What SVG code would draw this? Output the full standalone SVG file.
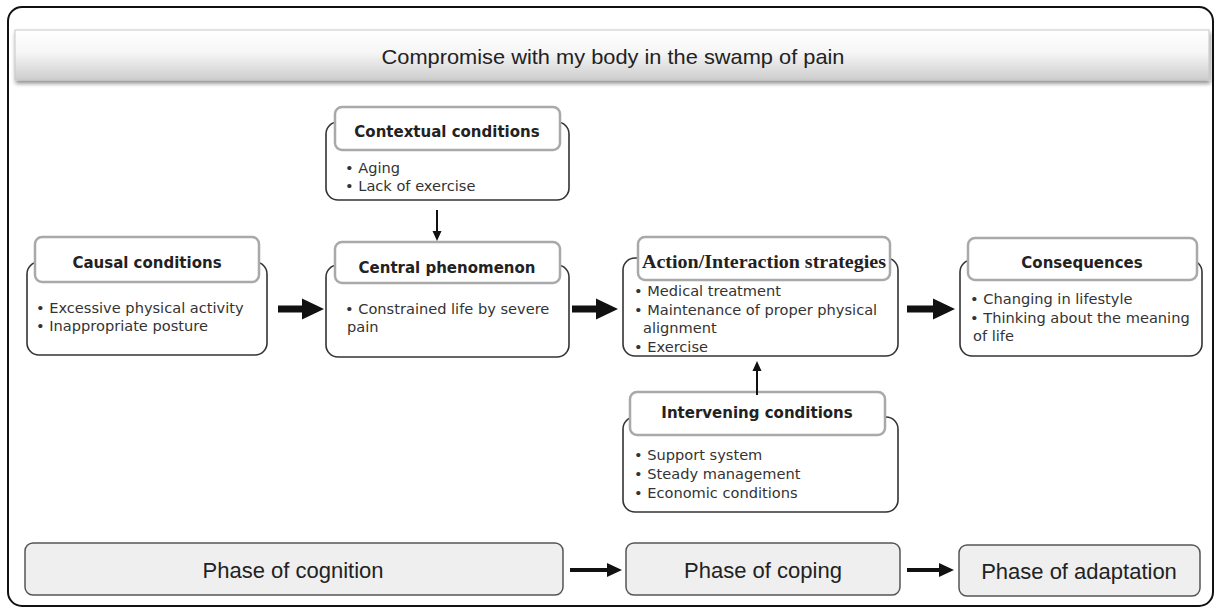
<svg xmlns="http://www.w3.org/2000/svg" width="1219" height="609" viewBox="0 0 1219 609">
<defs>
<linearGradient id="band" x1="0" y1="0" x2="0" y2="1">
<stop offset="0" stop-color="#ffffff"/>
<stop offset="0.45" stop-color="#f6f6f6"/>
<stop offset="1" stop-color="#cdcdcd"/>
</linearGradient>
<filter id="sh" x="-5%" y="-30%" width="110%" height="180%">
<feGaussianBlur in="SourceAlpha" stdDeviation="2"/>
<feOffset dx="1" dy="3" result="b"/>
<feComponentTransfer><feFuncA type="linear" slope="0.45"/></feComponentTransfer>
<feMerge><feMergeNode/><feMergeNode in="SourceGraphic"/></feMerge>
</filter>
</defs>
<style>
.outer{fill:#fff;stroke:#333;stroke-width:1.6}
.head{fill:#fff;stroke:#a9a9a9;stroke-width:2.5}
.ttl{font-family:"DejaVu Sans",sans-serif;font-weight:bold;font-size:15px;fill:#222;text-anchor:middle}
.ttls{font-family:"Liberation Serif",serif;font-weight:bold;font-size:19px;fill:#222;text-anchor:middle}
.bl{font-family:"DejaVu Sans",sans-serif;font-size:14.6px;fill:#333}
.phase{fill:#efefef;stroke:#555;stroke-width:1.5}
.ph{font-family:"Liberation Sans",Arial,sans-serif;font-size:22px;fill:#222;text-anchor:middle}
.arr{fill:#111;stroke:none}
</style>
<rect width="1219" height="609" fill="#fff"/>
<rect x="8" y="7" width="1205" height="599" rx="14" fill="#fff" stroke="#111" stroke-width="2"/>
<g id="title">
<rect x="15" y="30" width="1194" height="50" fill="url(#band)" stroke="#c8c8c8" stroke-width="1" filter="url(#sh)"/>
<text x="613" y="64" font-family="Liberation Sans,Arial,sans-serif" font-size="21px" fill="#222" text-anchor="middle" textLength="463" lengthAdjust="spacingAndGlyphs">Compromise with my body in the swamp of pain</text>
</g>
<g id="contextual">
<rect class="outer" x="326" y="122" width="243" height="78" rx="12"/>
<rect class="head" x="335" y="107" width="225" height="43" rx="7"/>
<text class="ttl" x="447" y="137">Contextual conditions</text>
<text class="bl" x="345" y="173">• Aging</text>
<text class="bl" x="345" y="191">• Lack of exercise</text>
</g>
<g id="causal">
<rect class="outer" x="27" y="262" width="240" height="93" rx="12"/>
<rect class="head" x="35" y="237" width="224" height="45" rx="7"/>
<text class="ttl" x="147" y="268">Causal conditions</text>
<text class="bl" x="36" y="313">• Excessive physical activity</text>
<text class="bl" x="36" y="331">• Inappropriate posture</text>
</g>
<g id="central">
<rect class="outer" x="326" y="265" width="243" height="92" rx="12"/>
<rect class="head" x="335" y="242" width="225" height="41" rx="7"/>
<text class="ttl" x="447" y="273">Central phenomenon</text>
<text class="bl" x="345" y="314">• Constrained life by severe</text>
<text class="bl" x="347" y="332">pain</text>
</g>
<g id="action">
<rect class="outer" x="623" y="258" width="275" height="98" rx="12"/>
<rect class="head" x="638" y="237" width="252" height="43" rx="7"/>
<text class="ttls" x="764" y="268" textLength="244" lengthAdjust="spacingAndGlyphs">Action/Interaction strategies</text>
<text class="bl" x="634" y="296">• Medical treatment</text>
<text class="bl" x="634" y="315">• Maintenance of proper physical</text>
<text class="bl" x="643" y="333">alignment</text>
<text class="bl" x="634" y="352">• Exercise</text>
</g>
<g id="consequences">
<rect class="outer" x="960" y="260" width="242" height="96" rx="12"/>
<rect class="head" x="968" y="238" width="229" height="42" rx="7"/>
<text class="ttl" x="1082" y="268">Consequences</text>
<text class="bl" x="970" y="304">• Changing in lifestyle</text>
<text class="bl" x="970" y="323">• Thinking about the meaning</text>
<text class="bl" x="973" y="341">of life</text>
</g>
<g id="intervening">
<rect class="outer" x="623" y="417" width="275" height="95" rx="12"/>
<rect class="head" x="630" y="392" width="255" height="43" rx="7"/>
<text class="ttl" x="757" y="418">Intervening conditions</text>
<text class="bl" x="634" y="460">• Support system</text>
<text class="bl" x="634" y="479">• Steady management</text>
<text class="bl" x="634" y="498">• Economic conditions</text>
</g>
<g id="phase-cognition">
<rect class="phase" x="25" y="543" width="538" height="52" rx="8"/>
<text class="ph" x="293" y="578">Phase of cognition</text>
</g>
<g id="phase-coping">
<rect class="phase" x="626" y="543" width="274" height="52" rx="8"/>
<text class="ph" x="763" y="578">Phase of coping</text>
</g>
<g id="phase-adaptation">
<rect class="phase" x="959" y="545" width="241" height="51" rx="8"/>
<text class="ph" x="1079" y="579">Phase of adaptation</text>
</g>
<g id="connectors">
<path class="arr" d="M436,210 H438 V231 H441.5 L437,241 L432.5,231 H436 Z"/>
<path class="arr" d="M756,395 H758 V371 H761.5 L757,361 L752.5,371 H756 Z"/>
<path class="arr" d="M278,305.5 H302 V298.5 L324,309 L302,319.5 V312.5 H278 Z"/>
<path class="arr" d="M572,305.5 H596 V298.5 L618,309 L596,319.5 V312.5 H572 Z"/>
<path class="arr" d="M907,305.5 H933 V298.5 L955,309 L933,319.5 V312.5 H907 Z"/>
<path class="arr" d="M570,568 H607 V563 L622,570 L607,577 V572 H570 Z"/>
<path class="arr" d="M907,568 H939 V563 L954,570 L939,577 V572 H907 Z"/>
</g>
</svg>
